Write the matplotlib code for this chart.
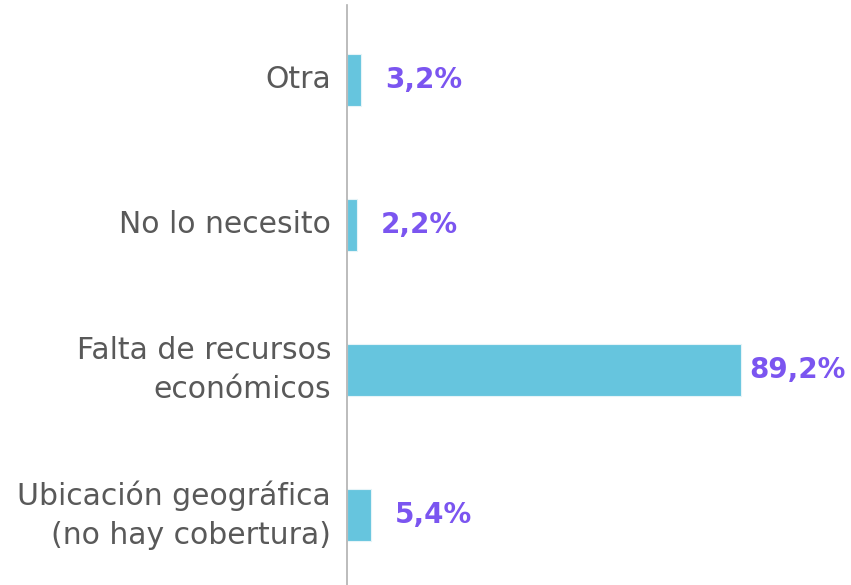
import matplotlib
matplotlib.use("Agg")
import matplotlib.pyplot as plt

categories = ["Ubicación geográfica\n(no hay cobertura)", "Falta de recursos\neconómicos", "No lo necesito", "Otra"]
values = [5.4, 89.2, 2.2, 3.2]
value_labels = ["5,4%", "89,2%", "2,2%", "3,2%"]

plt.rcParams['font.family'] = ['DejaVu Sans']

fig = plt.figure(figsize=(8.51, 5.85), dpi=100)
W, H = 851, 585
ax = fig.add_axes([347 / W, 0, 441.7 / W, 580 / H])
pos = list(range(len(categories)))
ax.barh(pos, values, height=0.36, color="#66C5DE", edgecolor="#e6f4f8", linewidth=0.8)
ax.set_xlim(0, 100)
ax.set_ylim(-0.483, 3.517)
ax.set_yticks(pos)
ax.set_yticklabels(categories, fontsize=21.5, color="#595959", ha="right", va="center",
                   linespacing=1.45)
ax.tick_params(axis="y", length=0, pad=11.5)
ax.set_xticks([])
for s in ["top", "right", "bottom"]:
    ax.spines[s].set_visible(False)
ax.spines["left"].set_color("#b0b0b0")
ax.spines["left"].set_linewidth(1.2)
for p, v, lab in zip(pos, values, value_labels):
    off = 6 if v > 50 else 17
    ax.annotate(lab, (v, p), xytext=(off, 0), textcoords="offset points",
                va="center", ha="left", fontsize=20, fontweight="bold", color="#7B55F0")
fig.savefig("out.png", dpi=100)
